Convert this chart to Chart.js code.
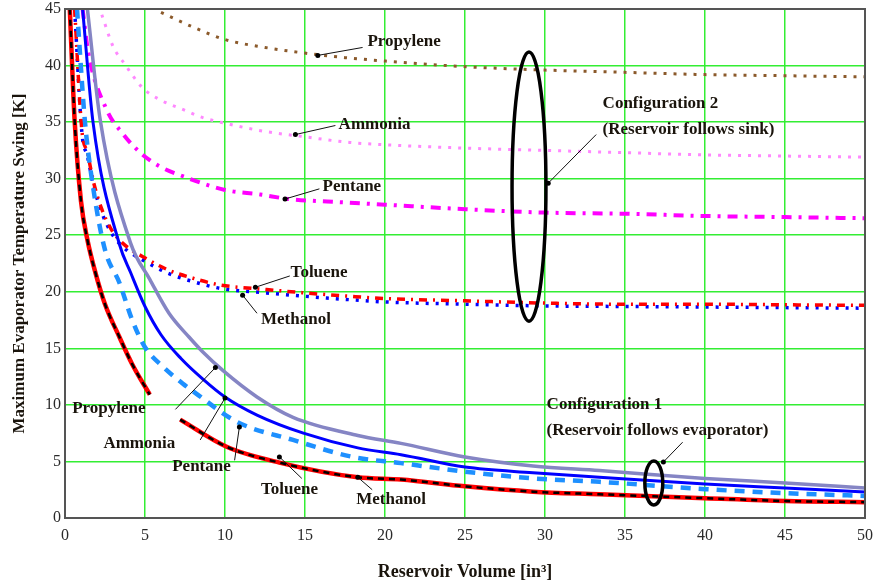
<!DOCTYPE html>
<html>
<head>
<meta charset="utf-8">
<script src="https://cdn.jsdelivr.net/npm/chart.js@4"></script>
<style>
  html, body { margin: 0; padding: 0; background: #fff; }
  canvas { display: block; }
</style>
</head>
<body>
<canvas id="swing-chart" width="878" height="585"></canvas>
<script>
// Configuration 2 (reservoir follows sink)
const propC2X = [6, 8, 10, 12.5, 15, 17.5, 20, 25, 30, 35, 40, 45, 50];
const propC2Y = [44.7, 43.4, 42.3, 41.6, 41.1, 40.7, 40.4, 39.9, 39.6, 39.4, 39.2, 39.1, 39.0];

const ammC2X = [2.3, 3, 3.75, 4.8, 5.9, 7.4, 8.6, 10, 12.4, 15, 17.8, 20, 25, 30, 35, 40, 45, 50];
const ammC2Y = [44.5, 41.7, 40.1, 38.1, 37.0, 36.1, 35.4, 34.9, 34.2, 33.7, 33.2, 33.0, 32.7, 32.5, 32.3, 32.1, 32.0, 31.9];

const pentC2X = [1.1, 1.45, 2.6, 3.6, 4.7, 5.9, 7.4, 10, 12.2, 14, 17.5, 20, 25, 30, 35, 40, 45, 50];
const pentC2Y = [45, 41.2, 36.1, 34.0, 32.3, 31.1, 30.2, 29.0, 28.6, 28.2, 27.9, 27.7, 27.3, 27.0, 26.9, 26.7, 26.6, 26.5];

const tolC2X = [0.6, 1.06, 1.4, 1.8, 2.3, 2.9, 3.6, 5.25, 6.5, 8, 9.7, 12.6, 15, 17.8, 20, 25, 30, 35, 40, 45, 50];
const tolC2Y = [45, 34.2, 32.3, 29.6, 27.3, 25.5, 24.3, 22.8, 21.9, 21.2, 20.6, 20.2, 19.9, 19.6, 19.4, 19.2, 19.0, 18.9, 18.9, 18.85, 18.8];
const methC2Y = [45, 34.0, 32.0, 29.3, 27.0, 25.2, 24.0, 22.5, 21.6, 20.9, 20.3, 19.9, 19.6, 19.3, 19.1, 18.9, 18.75, 18.7, 18.65, 18.6, 18.55];

// Configuration 1 (reservoir follows evaporator)
const propC1X = [1.4, 2.2, 4.1, 5.3, 6.5, 7.75, 8.6, 9.9, 12, 14.25, 18.3, 21, 25, 29.25, 33.4, 40, 45, 50];
const propC1Y = [45, 35.2, 24.3, 21.1, 18.1, 16.0, 14.7, 13.0, 10.7, 8.9, 7.3, 6.6, 5.4, 4.6, 4.2, 3.5, 3.1, 2.65];

const ammC1X = [1.1, 1.75, 3.4, 4.1, 5.0, 6.0, 7.25, 8.6, 10, 12, 14.9, 18.3, 21, 25, 29.25, 33.4, 40, 45, 50];
const ammC1Y = [45, 35, 24.2, 21.7, 18.7, 16.2, 14.1, 12.3, 10.7, 9.1, 7.5, 6.2, 5.6, 4.5, 4.0, 3.6, 3.0, 2.65, 2.3];

const pentC1X = [0.75, 1.25, 1.75, 2.5, 3.4, 4.2, 5.0, 6.1, 7.35, 8.2, 10.75, 14.25, 18, 21, 25, 29.25, 33.4, 40, 45, 50];
const pentC1Y = [45, 35, 29.3, 23.7, 20.8, 17.5, 15.1, 13.4, 11.9, 11.0, 8.5, 6.9, 5.4, 4.85, 4.1, 3.5, 3.2, 2.55, 2.2, 1.95];

// toluene / methanol config 1: two branches with a gap between them
const tolC1X = [0.3, 0.6, 1.0, 1.4, 1.9, 2.5, 3.4, 4.2, 5.3, 6.2, 7.2, 10.1, 13.4, 18.3, 21, 25, 29.25, 33.4, 40, 45, 50];
const tolC1Y = [45, 35.2, 28, 24.6, 21.7, 18.9, 16, 13.6, 10.9, null, 8.7, 6.3, 4.9, 3.6, 3.4, 2.8, 2.33, 2.1, 1.75, 1.5, 1.4];

const xTicks = [0, 5, 10, 15, 20, 25, 30, 35, 40, 45, 50];
const yTicks = [0, 5, 10, 15, 20, 25, 30, 35, 40, 45];

// text labels with leader lines (data units)
const labels = [
  { text: 'Propylene', tx: 18.9, ty: 42.1, from: [15.8, 40.9], to: [18.6, 41.6] },
  { text: 'Ammonia', tx: 17.1, ty: 34.8, from: [14.4, 33.9], to: [16.9, 34.7] },
  { text: 'Pentane', tx: 16.1, ty: 29.3, from: [13.75, 28.2], to: [15.9, 29.1] },
  { text: 'Toluene', tx: 14.1, ty: 21.7, from: [11.9, 20.4], to: [14.05, 21.4] },
  { text: 'Methanol', tx: 12.25, ty: 17.5, from: [11.1, 19.7], to: [12.0, 18.1] },
  { text: 'Propylene', tx: 0.45, ty: 9.7, from: [9.4, 13.3], to: [6.9, 9.6] },
  { text: 'Ammonia', tx: 2.4, ty: 6.6, from: [10, 10.6], to: [8.45, 6.9] },
  { text: 'Pentane', tx: 6.7, ty: 4.5, from: [10.9, 8.05], to: [10.6, 5.1] },
  { text: 'Toluene', tx: 12.25, ty: 2.5, from: [13.4, 5.4], to: [14.8, 3.5] },
  { text: 'Methanol', tx: 18.2, ty: 1.6, from: [18.3, 3.6], to: [19.2, 2.5] },
  { text: 'Configuration 2', tx: 33.6, ty: 36.6, from: [30.2, 29.6], to: [33.2, 33.9] },
  { text: '(Reservoir follows sink)', tx: 33.6, ty: 34.3 },
  { text: 'Configuration 1', tx: 30.1, ty: 10.0, from: [37.4, 4.95], to: [38.6, 6.7] },
  { text: '(Reservoir follows evaporator)', tx: 30.1, ty: 7.7 }
];
const ellipses = [
  { cx: 29.0, cy: 29.3, rx: 1.06, ry: 11.9 },
  { cx: 36.8, cy: 3.1, rx: 0.56, ry: 1.95 }
];

function pts(xs, ys) {
  return xs.map((x, i) => ({ x: x, y: ys[i] }));
}

function series(label, xs, ys, color, width, dash, order) {
  return {
    label: label,
    data: pts(xs, ys),
    borderColor: color,
    backgroundColor: color,
    borderWidth: width,
    borderDash: dash,
    pointRadius: 0,
    cubicInterpolationMode: 'monotone',
    order: order
  };
}

const annotate = {
  id: 'annotate',
  afterDatasetsDraw(chart) {
    const ctx = chart.ctx;
    const xs = chart.scales.x, ys = chart.scales.y;
    const area = chart.chartArea;
    ctx.save();
    // frame on top and right
    ctx.strokeStyle = '#555';
    ctx.lineWidth = 2;
    ctx.strokeRect(area.left, area.top, area.right - area.left, area.bottom - area.top);

    ellipses.forEach(e => {
      const cx = xs.getPixelForValue(e.cx), cy = ys.getPixelForValue(e.cy);
      const rx = Math.abs(xs.getPixelForValue(e.cx + e.rx) - cx);
      const ry = Math.abs(ys.getPixelForValue(e.cy + e.ry) - cy);
      ctx.beginPath();
      ctx.ellipse(cx, cy, rx, ry, 0, 0, Math.PI * 2);
      ctx.strokeStyle = '#000';
      ctx.lineWidth = 3.5;
      ctx.stroke();
    });

    ctx.font = 'bold 17px "Liberation Serif", "Times New Roman", serif';
    ctx.textBaseline = 'middle';
    ctx.textAlign = 'left';
    labels.forEach(l => {
      if (l.from) {
        const x1 = xs.getPixelForValue(l.from[0]), y1 = ys.getPixelForValue(l.from[1]);
        const x2 = xs.getPixelForValue(l.to[0]), y2 = ys.getPixelForValue(l.to[1]);
        ctx.beginPath();
        ctx.moveTo(x1, y1);
        ctx.lineTo(x2, y2);
        ctx.strokeStyle = '#111';
        ctx.lineWidth = 1;
        ctx.stroke();
        ctx.beginPath();
        ctx.arc(x1, y1, 2.5, 0, Math.PI * 2);
        ctx.fillStyle = '#000';
        ctx.fill();
      }
      ctx.fillStyle = '#1a140c';
      ctx.fillText(l.text, xs.getPixelForValue(l.tx), ys.getPixelForValue(l.ty));
    });
    ctx.restore();
  }
};

const tickFont = { family: '"Liberation Serif", "Times New Roman", serif', size: 16 };

new Chart(document.querySelector('#swing-chart'), {
  type: 'line',
  data: {
    datasets: [
      series('Methanol (config 1)', tolC1X, tolC1Y, '#000000', 2.5, [6, 5], 0),
      series('Toluene (config 1)', tolC1X, tolC1Y, '#ff0000', 4.5, [], 1),
      series('Pentane (config 1)', pentC1X, pentC1Y, '#1e90ff', 4.5, [10, 8], 2),
      series('Ammonia (config 1)', ammC1X, ammC1Y, '#0000ff', 3, [], 3),
      series('Propylene (config 1)', propC1X, propC1Y, '#8585c4', 3.5, [], 4),
      series('Toluene (config 2)', tolC2X, tolC2Y, '#ff0000', 3.5, [8, 6, 2, 6], 5),
      series('Methanol (config 2)', tolC2X, methC2Y, '#0000ff', 3.5, [3, 7], 6),
      series('Pentane (config 2)', pentC2X, pentC2Y, '#ff00ff', 4, [10, 7, 3, 7], 7),
      series('Ammonia (config 2)', ammC2X, ammC2Y, '#ff88ff', 3, [3, 7], 8),
      series('Propylene (config 2)', propC2X, propC2Y, '#8b5a2b', 3, [3, 7], 9)
    ]
  },
  options: {
    responsive: false,
    animation: false,
    devicePixelRatio: 1,
    layout: { padding: { top: 9, right: 13, left: 0, bottom: 0 } },
    plugins: { legend: { display: false }, tooltip: { enabled: false } },
    scales: {
      x: {
        type: 'linear',
        min: 0,
        max: 50,
        afterFit: s => { s.height = 67; s.paddingLeft = 0; s.paddingRight = 0; },
        afterBuildTicks: s => { s.ticks = xTicks.map(v => ({ value: v })); },
        ticks: { font: tickFont, color: '#2a2a2a', padding: 8, maxRotation: 0 },
        grid: { color: '#33ee33', lineWidth: 1.5, drawTicks: false },
        border: { color: '#555', width: 2 },
        title: {
          display: true,
          text: 'Reservoir Volume [in\u00b3]',
          font: { family: '"Liberation Serif", "Times New Roman", serif', size: 18, weight: 'bold' },
          color: '#1a140c',
          padding: { top: 0, bottom: 2 }
        }
      },
      y: {
        type: 'linear',
        min: 0,
        max: 45,
        afterFit: s => { s.width = 65; s.paddingTop = 0; s.paddingBottom = 0; },
        afterBuildTicks: s => { s.ticks = yTicks.map(v => ({ value: v })); },
        ticks: { font: tickFont, color: '#2a2a2a', padding: 4 },
        grid: { color: '#33ee33', lineWidth: 1.5, drawTicks: false },
        border: { color: '#555', width: 2 },
        title: {
          display: true,
          text: 'Maximum Evaporator Temperature Swing [K]',
          font: { family: '"Liberation Serif", "Times New Roman", serif', size: 17, weight: 'bold' },
          color: '#1a140c',
          padding: { top: 9, bottom: 0 }
        }
      }
    }
  },
  plugins: [annotate]
});
</script>
</body>
</html>
